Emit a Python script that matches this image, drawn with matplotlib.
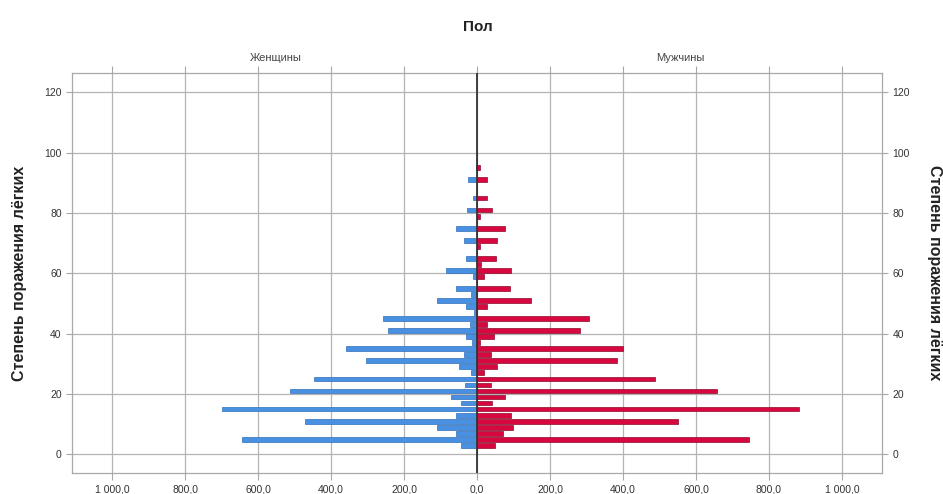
import matplotlib
matplotlib.use("Agg")
import matplotlib.pyplot as plt
import numpy as np
from matplotlib.ticker import FuncFormatter

plt.rcParams["font.family"] = ["Liberation Sans", "DejaVu Sans"]

# bin centres (lung damage, bins of width 2)
damage = np.arange(1, 100, 2)

women = [0, 45, 645, 58, 110, 471, 58, 698, 45, 72,
         512, 32, 448, 17, 49, 304, 36, 360, 13, 30,
         243, 18, 257, 8, 29, 110, 17, 58, 0, 12,
         86, 0, 31, 0, 0, 36, 0, 58, 0, 0,
         27, 0, 11, 0, 0, 26, 0, 4, 0, 0]

men = [0, 48, 744, 72, 99, 550, 92, 882, 42, 76,
       658, 38, 488, 18, 54, 384, 38, 401, 8, 47,
       282, 27, 307, 0, 27, 147, 0, 90, 0, 18,
       94, 10, 51, 0, 8, 56, 0, 76, 0, 8,
       41, 0, 27, 0, 0, 27, 0, 8, 0, 0]

x_ticks = [-1000, -800, -600, -400, -200, 0, 200, 400, 600, 800, 1000]
y_ticks = [0, 20, 40, 60, 80, 100, 120]

BLUE = "#4a90e2"
RED = "#d6083f"
GRID = "#b4b4b4"


def fmt(v, pos):
    s = f"{abs(v):,.1f}"
    return s.replace(",", " ").replace(".", ",")


fig = plt.figure(figsize=(9.43, 4.94), dpi=100)
ax = fig.add_axes([0.0764, 0.0425, 0.859, 0.81])

ax.barh(damage, -np.array(women), height=1.6, color=BLUE,
        edgecolor="#2f6fb8", linewidth=0.5, zorder=3)
ax.barh(damage, men, height=1.6, color=RED,
        edgecolor="#8e0a2c", linewidth=0.5, zorder=3)

ax.axvline(0, color="#333333", lw=1.3, zorder=4)

ax.set_xlim(-1110, 1110)
ax.set_ylim(-6.2, 126.5)
ax.set_xticks(x_ticks)
ax.set_yticks(y_ticks)
ax.xaxis.set_major_formatter(FuncFormatter(fmt))
ax.grid(True, color=GRID, lw=0.9, zorder=0)

for s in ax.spines.values():
    s.set_color("#a8a8a8")
    s.set_linewidth(0.9)

ax.tick_params(axis="x", labelsize=7.5, colors="#a8a8a8", labelcolor="#333333",
               top=True, bottom=True, direction="out", length=5)
ax.tick_params(axis="y", labelsize=7.5, colors="#a8a8a8", labelcolor="#333333",
               left=True, right=True, labelright=True, direction="out", length=4)

ax.set_ylabel("Степень поражения лёгких", fontsize=11.5, fontweight="bold",
              color="#222222", labelpad=12)
ax.text(1.065, 0.5, "Степень поражения лёгких", transform=ax.transAxes,
        rotation=-90, ha="center", va="center", fontsize=11.5,
        fontweight="bold", color="#222222")

fig.text(0.5065, 0.945, "Пол", ha="center", va="center", fontsize=11,
         fontweight="bold", color="#222222")
fig.text(0.292, 0.882, "Женщины", ha="center", va="center", fontsize=8,
         color="#444444")
fig.text(0.721, 0.882, "Мужчины", ha="center", va="center", fontsize=8,
         color="#444444")

fig.savefig("out.png", dpi=100)
